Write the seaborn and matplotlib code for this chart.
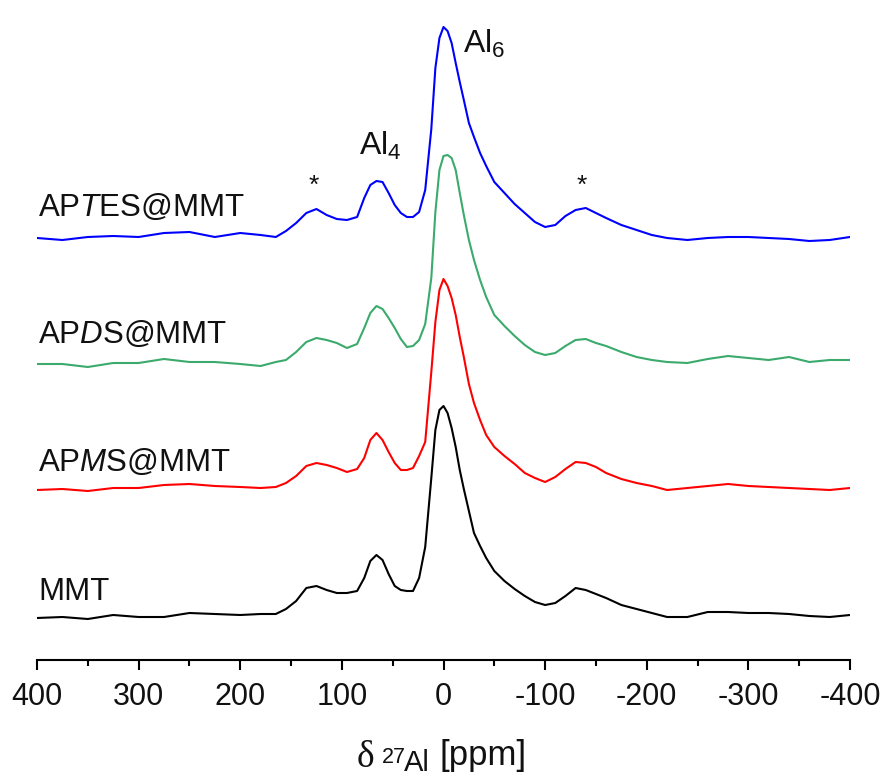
import numpy as np
import pandas as pd
import matplotlib
matplotlib.use("Agg")
import matplotlib.pyplot as plt
import seaborn as sns

# ---- data (chemical shift in ppm, intensities in arbitrary units) ----
ppm = [400, 375, 350, 325, 300, 275, 250, 225, 200, 180, 165, 155, 145, 135, 125, 115, 105, 95, 85,
       78, 72, 66, 60, 54, 48, 42, 36, 30, 24, 18, 12, 8, 4, 0,
       -4, -8, -12, -16, -20, -25, -30, -36, -42, -50,
       -60, -70, -80, -90, -100, -110, -120, -130, -140, -150, -160,
       -175, -190, -205, -220, -240, -260, -280, -300, -320, -340, -360, -380, -400]

mmt = [0, 1, -1, 3, 1, 1, 5, 4, 3, 4, 4, 9, 17, 30, 32, 28, 25, 25, 27,
       40, 57, 63, 58, 44, 32, 28, 27, 27, 40, 71, 140, 188, 208, 212,
       205, 190, 171, 148, 129, 107, 85, 72, 60, 47,
       37, 29, 22, 16, 13, 15, 22, 30, 28, 24, 20,
       13, 9, 5, 1, 1, 6, 6, 5, 5, 4, 2, 1, 3]

apms = [0, 1, -1, 2, 2, 5, 6, 4, 3, 2, 3, 7, 14, 24, 27, 25, 22, 18, 21,
        32, 50, 57, 50, 38, 27, 20, 20, 22, 34, 48, 118, 168, 200, 211,
        204, 192, 175, 153, 133, 106, 87, 70, 55, 43,
        34, 26, 17, 12, 8, 13, 21, 28, 27, 23, 17,
        11, 7, 4, 0, 2, 4, 6, 4, 3, 2, 1, 0, 2]

apds = [0, 0, -3, 1, 1, 5, 2, 2, 0, -2, 2, 4, 12, 22, 26, 24, 21, 16, 20,
        36, 51, 58, 55, 46, 36, 25, 17, 18, 24, 40, 86, 152, 194, 208,
        209, 206, 194, 171, 149, 124, 104, 84, 67, 49,
        38, 28, 19, 12, 9, 11, 18, 24, 25, 21, 18,
        12, 7, 4, 2, 1, 5, 8, 6, 4, 7, 2, 4, 4]

aptes = [0, -2, 1, 2, 1, 5, 6, 1, 5, 3, 1, 7, 15, 25, 29, 23, 19, 18, 21,
         40, 53, 57, 56, 45, 33, 25, 21, 21, 26, 48, 109, 170, 200, 211,
         207, 195, 175, 156, 138, 115, 101, 85, 72, 56,
         45, 34, 25, 16, 11, 13, 22, 28, 30, 25, 20,
         13, 8, 3, 0, -2, 0, 1, 1, 0, -1, -3, -2, 1]

samples = ["MMT", "APMS@MMT", "APDS@MMT", "APTES@MMT"]
series = [mmt, apms, apds, aptes]
tick_vals = [400, 300, 200, 100, 0, -100, -200, -300, -400]
tick_labels = ["400", "300", "200", "100", "0", "-100", "-200", "-300", "-400"]

# ---- layout / style ----
offsets = [42, 170, 296, 422]
colors = ["#000000", "#FF0000", "#3BAA6C", "#0000FF"]
label_text = ["MMT", r"AP$\mathit{M}$S@MMT", r"AP$\mathit{D}$S@MMT", r"AP$\mathit{T}$ES@MMT"]
label_y = [68, 197, 325, 452]
TXT = "#111111"

rows = []
for name, vals, off in zip(samples, series, offsets):
    for x, v in zip(ppm, vals):
        rows.append({"ppm": x, "y": v + off, "sample": name})
df = pd.DataFrame(rows)

sns.set_theme(style="white")
plt.rcParams["font.family"] = ["Liberation Sans", "DejaVu Sans"]
plt.rcParams["mathtext.fontset"] = "custom"
plt.rcParams["mathtext.rm"] = "Liberation Sans"
plt.rcParams["mathtext.it"] = "Liberation Sans:italic"
plt.rcParams["mathtext.default"] = "regular"

W, H = 883, 778
fig = plt.figure(figsize=(W / 100, H / 100), dpi=100)
ax = fig.add_axes([37 / W, (H - 660) / H, 813 / W, 650 / H])

sns.lineplot(data=df, x="ppm", y="y", hue="sample", hue_order=samples,
             palette=dict(zip(samples, colors)), estimator=None, sort=False,
             legend=False, linewidth=1.5, ax=ax)

ax.set_xlim(400, -400)
ax.set_ylim(0, 650)
ax.set_xticks(tick_vals)
ax.set_xticks([350, 250, 150, 50, -50, -150, -250, -350], minor=True)
ax.set_xticklabels(tick_labels)
ax.set_yticks([])
ax.set_xlabel("")
ax.set_ylabel("")
for s in ["left", "top", "right"]:
    ax.spines[s].set_visible(False)
ax.spines["bottom"].set_linewidth(1.5)
ax.spines["bottom"].set_color("black")
ax.tick_params(axis="x", which="major", direction="out", length=7.5, width=1.5,
               color="black", labelsize=22, labelcolor=TXT, pad=8, bottom=True)
ax.tick_params(axis="x", which="minor", direction="out", length=4, width=1.5,
               color="black", bottom=True)
ax.patch.set_alpha(0)

for t, yy in zip(label_text, label_y):
    ax.text(399, yy, t, fontsize=22.5, ha="left", va="center", color=TXT)

ax.text(83, 514, r"Al$_4$", fontsize=23, ha="left", va="center", color=TXT)
ax.text(-19, 616, r"Al$_6$", fontsize=23, ha="left", va="center", color=TXT)
ax.text(128, 474, "*", fontsize=19, ha="center", va="center", color=TXT)
ax.text(-136, 474, "*", fontsize=19, ha="center", va="center", color=TXT)

# x-axis title built from pieces
def ftxt(xpx, base_px, s, size, **kw):
    fig.text(xpx / W, (H - base_px) / H, s, fontsize=size, ha="left", va="baseline",
             color=TXT, **kw)

ftxt(357, 767, "\u03b4", 27, family=["Liberation Serif", "DejaVu Serif"])
ftxt(382, 763, "27", 15.5)
ftxt(404, 771, "Al", 21)
ftxt(440, 765, "[ppm]", 25)

fig.savefig("out.png", dpi=100, facecolor="white")
